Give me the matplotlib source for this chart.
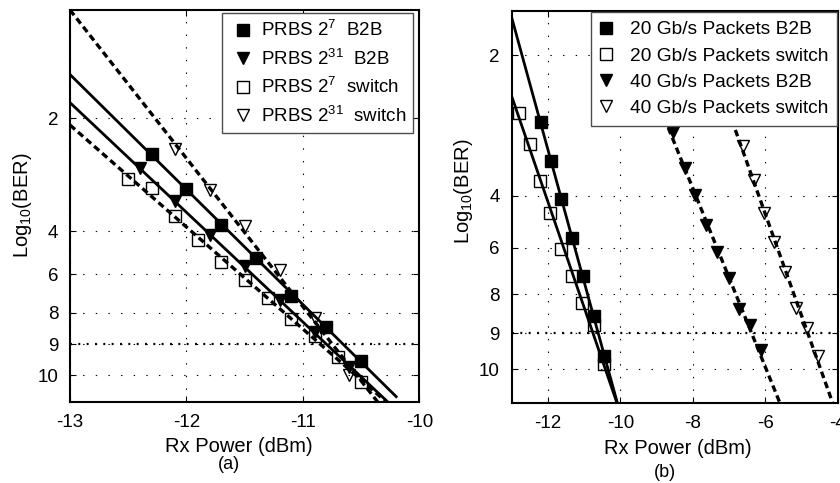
import numpy as np
import matplotlib
matplotlib.use('Agg')
import matplotlib.pyplot as plt
from matplotlib.ticker import NullLocator, FixedLocator, FixedFormatter

plt.rcParams['font.family'] = ['Liberation Sans', 'DejaVu Sans']
plt.rcParams['mathtext.fontset'] = 'custom'
plt.rcParams['mathtext.rm'] = 'Liberation Sans'
plt.rcParams['mathtext.it'] = 'Liberation Sans:italic'
plt.rcParams['mathtext.bf'] = 'Liberation Sans:bold'
plt.rcParams['lines.scale_dashes'] = False
plt.rcParams['axes.unicode_minus'] = False

# ---------------- data : panel (a) ----------------
x_a_b2b_7 = [-12.3, -12.0, -11.7, -11.4, -11.1, -10.8, -10.5]
y_a_b2b_7 = [2.64, 3.25, 3.89, 5.25, 7.11, 8.45, 9.53]
x_a_b2b_31 = [-12.4, -12.1, -11.8, -11.5, -11.2, -10.9, -10.6]
y_a_b2b_31 = [2.89, 3.47, 4.20, 5.62, 7.34, 8.61, 9.73]
x_a_sw_7 = [-12.5, -12.3, -12.1, -11.9, -11.7, -11.5, -11.3, -11.1, -10.9, -10.7, -10.5]
y_a_sw_7 = [3.08, 3.24, 3.73, 4.42, 5.43, 6.30, 7.25, 8.21, 8.72, 9.41, 10.23]
x_a_sw_31 = [-12.1, -11.8, -11.5, -11.2, -10.9, -10.6]
y_a_sw_31 = [2.55, 3.27, 3.91, 5.78, 8.18, 10.0]
labels_a = ['PRBS 2$^{7}$  B2B', 'PRBS 2$^{31}$  B2B',
            'PRBS 2$^{7}$  switch', 'PRBS 2$^{31}$  switch']

# ---------------- data : panel (b) ----------------
x_b_20_b2b = [-12.2, -11.92, -11.63, -11.33, -11.04, -10.73, -10.44]
y_b_20_b2b = [2.95, 3.51, 4.14, 5.64, 7.21, 8.56, 9.63]
x_b_20_sw = [-12.8, -12.5, -12.21, -11.93, -11.64, -11.34, -11.05, -10.74, -10.45]
y_b_20_sw = [2.82, 3.26, 3.79, 4.68, 6.07, 7.21, 8.23, 8.79, 9.84]
x_b_40_b2b = [-8.54, -8.22, -7.95, -7.62, -7.34, -7.01, -6.72, -6.41, -6.11]
y_b_40_b2b = [3.09, 3.61, 3.99, 5.13, 6.17, 7.31, 8.38, 8.79, 9.46]
x_b_40_sw = [-6.6, -6.31, -6.03, -5.75, -5.46, -5.14, -4.84, -4.53]
y_b_40_sw = [3.30, 3.78, 4.68, 5.77, 7.03, 8.36, 8.87, 9.62]
labels_b = ['20 Gb/s Packets B2B', '20 Gb/s Packets switch',
            '40 Gb/s Packets B2B', '40 Gb/s Packets switch']

# ---------------- axis definitions ----------------
Y_TICKS = [2, 4, 6, 8, 9, 10]
Y_POS_A = [0.0, 1.0, 1.384, 1.725, 2.005, 2.277]   # relative placement of the tick values
Y_POS_B = [0.0, 1.0, 1.370, 1.702, 1.979, 2.235]
YLIM_A = (10.89, 0.078)
YLIM_B = (10.94, 1.37)
XLIM_A = (-13, -10)
XLIM_B = (-13, -4)
XTICKS_A = [-13, -12, -11, -10]
XTICKS_B = [-12, -10, -8, -6, -4]
FIT_X_A = (-13.0, -10.19)
FIT_X_B = (-13.0, -4.0)


def make_scale(vals, pos):
    vals = np.asarray(vals, float)
    pos = np.asarray(pos, float)
    s_lo = (pos[1] - pos[0]) / (vals[1] - vals[0])
    s_hi = (pos[-1] - pos[-2]) / (vals[-1] - vals[-2])

    def fwd(v):
        v = np.asarray(v, float)
        out = np.interp(v, vals, pos)
        out = np.where(v < vals[0], pos[0] + (v - vals[0]) * s_lo, out)
        out = np.where(v > vals[-1], pos[-1] + (v - vals[-1]) * s_hi, out)
        return out

    def inv(p):
        p = np.asarray(p, float)
        out = np.interp(p, pos, vals)
        out = np.where(p < pos[0], vals[0] + (p - pos[0]) / s_lo, out)
        out = np.where(p > pos[-1], vals[-1] + (p - pos[-1]) / s_hi, out)
        return out
    return fwd, inv


fig = plt.figure(figsize=(8.4, 4.83), dpi=100)
W, H = 840.0, 483.0
axA = fig.add_axes([70 / W, 1 - 402.3 / H, 349.3 / W, 392.3 / H])
axB = fig.add_axes([511.7 / W, 1 - 403.3 / H, 325.8 / W, 392.6 / H])

DASH = (0, (4.8, 2.9))


def style(ax, scale, xlim, ylim, xticks):
    ax.set_yscale('function', functions=scale)
    ax.set_xlim(*xlim)
    ax.set_ylim(*ylim)
    ax.xaxis.set_major_locator(FixedLocator(xticks))
    ax.yaxis.set_major_locator(FixedLocator(Y_TICKS))
    ax.yaxis.set_major_formatter(FixedFormatter([str(t) for t in Y_TICKS]))
    ax.xaxis.set_minor_locator(NullLocator())
    ax.yaxis.set_minor_locator(NullLocator())
    ax.tick_params(direction='in', top=True, right=True, length=4, width=0.8,
                   labelsize=13.5, pad=8.5)
    ax.grid(True, color='k', linestyle=(0, (1.0, 8.1)), linewidth=0.8)
    ax.set_axisbelow(True)
    for s in ax.spines.values():
        s.set_linewidth(1.5)
    ax.axhline(9, color='k', linestyle=(0, (1.4, 4.6)), linewidth=1.6, zorder=1)


def fit_line(ax, scale, x, y, xr, ls):
    fwd, inv = scale
    coef = np.polyfit(np.asarray(x, float), fwd(y), 1)
    xs = np.array(xr, float)
    ys = inv(np.polyval(coef, xs))
    ax.plot(xs, ys, color='k', lw=2.0 if ls == '-' else 2.4, linestyle=ls, zorder=2,
            solid_capstyle='butt', dash_capstyle='butt')


def markers(ax, x, y, marker, filled, label):
    ax.plot(x, y, linestyle='none', marker=marker, markersize=8.3 if marker == 's' else 8.7,
            markerfacecolor='k' if filled else 'none', markeredgecolor='k',
            markeredgewidth=1.0, label=label, zorder=3)


# ---------- panel (a) ----------
scA = make_scale(Y_TICKS, Y_POS_A)
style(axA, scA, XLIM_A, YLIM_A, XTICKS_A)
fit_line(axA, scA, x_a_b2b_7, y_a_b2b_7, FIT_X_A, '-')
fit_line(axA, scA, x_a_b2b_31, y_a_b2b_31, FIT_X_A, '-')
fit_line(axA, scA, x_a_sw_7, y_a_sw_7, FIT_X_A, DASH)
fit_line(axA, scA, x_a_sw_31, y_a_sw_31, FIT_X_A, DASH)
markers(axA, x_a_b2b_7, y_a_b2b_7, 's', True, labels_a[0])
markers(axA, x_a_b2b_31, y_a_b2b_31, 'v', True, labels_a[1])
markers(axA, x_a_sw_7, y_a_sw_7, 's', False, labels_a[2])
markers(axA, x_a_sw_31, y_a_sw_31, 'v', False, labels_a[3])

# ---------- panel (b) ----------
scB = make_scale(Y_TICKS, Y_POS_B)
style(axB, scB, XLIM_B, YLIM_B, XTICKS_B)
fit_line(axB, scB, x_b_20_b2b, y_b_20_b2b, FIT_X_B, '-')
fit_line(axB, scB, x_b_20_sw, y_b_20_sw, FIT_X_B, '-')
fit_line(axB, scB, x_b_40_b2b, y_b_40_b2b, FIT_X_B, DASH)
fit_line(axB, scB, x_b_40_sw, y_b_40_sw, FIT_X_B, DASH)
markers(axB, x_b_20_b2b, y_b_20_b2b, 's', True, labels_b[0])
markers(axB, x_b_20_sw, y_b_20_sw, 's', False, labels_b[1])
markers(axB, x_b_40_b2b, y_b_40_b2b, 'v', True, labels_b[2])
markers(axB, x_b_40_sw, y_b_40_sw, 'v', False, labels_b[3])

legA = axA.legend(loc='upper right', bbox_to_anchor=(0.983, 0.993), borderaxespad=0,
                  fontsize=13.5, frameon=True, fancybox=False, edgecolor='0.3',
                  framealpha=1, handlelength=1.44, handletextpad=0.24,
                  labelspacing=0.45, borderpad=0.4)
legB = axB.legend(loc='upper right', bbox_to_anchor=(0.9975, 0.996), borderaxespad=0,
                  fontsize=13.8, frameon=True, fancybox=False, edgecolor='0.3',
                  framealpha=1, handlelength=0.6, handletextpad=0.95,
                  labelspacing=0.46, borderpad=0.45)
for leg in (legA, legB):
    leg.get_frame().set_linewidth(1.0)
    leg.set_zorder(5)

# labels
for ax, lx, ly in ((axA, -0.1354, 0.503), (axB, -0.1486, 0.539)):
    ax.set_ylabel('Log$_{10}$(BER)', fontsize=14.5, va='center')
    ax.yaxis.set_label_coords(lx, ly)

axA.set_xlabel('Rx Power (dBm)', fontsize=14.5, va='baseline')
axA.xaxis.set_label_coords((238.7 - 70) / 349.3, (402.3 - 451.7) / 392.3)
axB.set_xlabel('Rx Power (dBm)', fontsize=14.5, va='baseline')
axB.xaxis.set_label_coords((678.3 - 511.7) / 325.8, (403.3 - 454) / 392.6)

fig.text(229 / W, 1 - 469 / H, '(a)', ha='center', va='baseline', fontsize=13)
fig.text(665 / W, 1 - 477 / H, '(b)', ha='center', va='baseline', fontsize=13)

fig.savefig('out.png', dpi=100)
